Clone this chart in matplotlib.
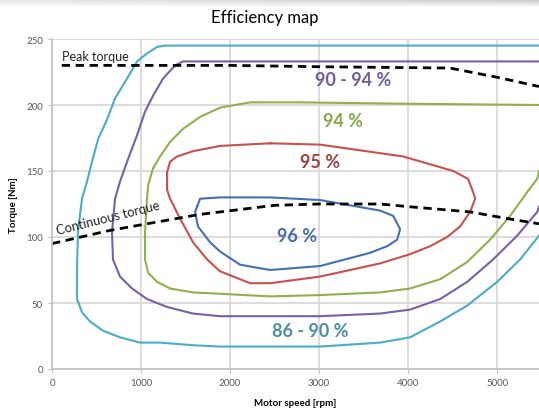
"""
Efficiency map of an electric motor: efficiency contours over speed and torque.
"""
import numpy as np
import matplotlib.pyplot as plt

plt.rcParams["font.family"] = ["Lato", "DejaVu Sans"]

# 86 - 90 % contour (outermost, teal)
c86_speed = [5470, 5258, 5000, 4663, 4360, 4022, 3685, 3010, 2450, 1888, 1584, 1213, 989, 764, 573, 427, 337,
             281, 281, 292, 337, 393, 449, 517, 618, 708, 843, 955, 1067, 1180, 1270, 5470]
c86_torque = [101, 83, 66, 48, 36, 24, 20, 17, 17, 17, 18, 20, 20, 24, 29, 36, 43,
              53, 78, 104, 129, 142, 157, 174, 189, 205, 220, 233, 239, 244, 245, 245]

# 90 - 94 % contour (purple)
c90_speed = [5470, 5450, 5225, 4955, 4663, 4360, 4022, 3685, 3010, 2450, 1888, 1584, 1292, 1067, 899, 764,
             685, 674, 708, 764, 854, 955, 1045, 1135, 1247, 1382, 1472, 1607, 5470]
c90_torque = [123, 119, 101, 83, 66, 53, 45, 42, 40, 40, 40, 42, 47, 53, 61, 70,
              83, 104, 129, 142, 159, 177, 195, 207, 220, 230, 233, 233, 233]

# 94 % contour (green)
c94_speed = [5470, 5450, 5337, 5146, 4921, 4663, 4360, 4022, 3685, 3010, 2450, 1888, 1584, 1326, 1180, 1079,
             1045, 1045, 1067, 1079, 1135, 1213, 1326, 1472, 1663, 1888, 2225, 2786, 3910, 5470]
c94_torque = [150, 144, 134, 116, 98, 81, 68, 61, 58, 56, 55, 57, 58, 61, 66, 73,
              83, 104, 129, 139, 152, 161, 172, 182, 191, 198, 202, 202, 201, 200]

# 95 % contour (red, closed)
c95_speed = [2450, 3010, 3945, 4507, 4674, 4730, 4753, 4697, 4584, 4438, 4247, 4022, 3685, 3010, 2450, 2225,
             1888, 1742, 1584, 1438, 1326, 1292, 1292, 1326, 1404, 1584, 1888, 2450]
c95_torque = [171, 170, 161, 150, 144, 134, 129, 119, 108, 100, 93, 87, 80, 70, 65, 65,
              74, 83, 96, 114, 129, 136, 149, 157, 161, 165, 169, 171]

# 96 % contour (blue, closed)
c96_speed = [1630, 1607, 1640, 1775, 1888, 2113, 2450, 3010, 3573, 3685, 3764, 3877, 3910, 3832, 3685,
             3010, 2450, 1888, 1663, 1630]
c96_torque = [123, 119, 108, 96, 89, 79, 75, 78, 88, 91, 93, 98, 106, 116, 120,
              128, 130, 130, 129, 123]

# torque limits
peak_speed = [110, 2000, 3000, 4470, 5000, 5470]
peak_torque = [230, 230, 229, 228, 221, 214]
cont_speed = [0, 650, 1650, 1888, 2500, 3000, 3685, 4000, 4697, 5112, 5470]
cont_torque = [95, 105, 117, 119, 124, 125, 125, 123, 119, 114, 110]

fig = plt.figure(figsize=(5.39, 4.10), dpi=100)

# grey screenshot shading along the top edge (darker towards the top and the right)
shade = fig.add_axes([0, 1 - 9 / 410, 1, 9 / 410])
fade = np.linspace(1, 0, 9)[:, None] * np.linspace(0.5, 1.0, 200)[None, :]
shade.imshow(1 - 0.22 * fade, cmap="gray", vmin=0, vmax=1, aspect="auto", extent=(0, 1, 0, 1))
shade.axis("off")

ax = fig.add_axes([52 / 539, 40 / 410, 487 / 539, 330 / 410])

ax.set_xlim(0, 5470)
ax.set_ylim(0, 250)
ax.set_xticks(range(0, 6000, 1000))
ax.set_yticks(range(0, 251, 50))
ax.grid(True, color="#d9d9d9", linewidth=1.3)
ax.set_axisbelow(True)
for side in ["top", "right"]:
    ax.spines[side].set_visible(False)
for side in ["left", "bottom"]:
    ax.spines[side].set_color("#bfbfbf")
    ax.spines[side].set_linewidth(1.2)
ax.tick_params(labelsize=7, colors="#595959", length=3, color="#bfbfbf")

ax.plot(c86_speed, c86_torque, color="#4bacc6", lw=1.5)
ax.plot(c90_speed, c90_torque, color="#7a5ea6", lw=1.5)
ax.plot(c94_speed, c94_torque, color="#8fb04c", lw=1.5)
ax.plot(c95_speed, c95_torque, color="#c9504c", lw=1.5)
ax.plot(c96_speed, c96_torque, color="#4470b0", lw=1.5)

ax.plot(peak_speed, peak_torque, color="black", lw=2, ls=(0, (3, 2)))
ax.plot(cont_speed, cont_torque, color="black", lw=2, ls=(0, (3, 2)))

ax.text(110, 234, "Peak torque", fontsize=9, color="#222222")
ax.text(60, 102, "Continuous torque", fontsize=9.3, color="#222222", rotation=14, rotation_mode="anchor")

ax.text(3380, 219, "90 - 94 %", fontsize=13, fontweight="bold", color="#6e5d9e", ha="center", va="center")
ax.text(3270, 188, "94 %", fontsize=13, fontweight="bold", color="#86a74a", ha="center", va="center")
ax.text(3010, 157, "95 %", fontsize=13, fontweight="bold", color="#a2403c", ha="center", va="center")
ax.text(2750, 101, "96 %", fontsize=13, fontweight="bold", color="#4a6bab", ha="center", va="center")
ax.text(2900, 29, "86 - 90 %", fontsize=13, fontweight="bold", color="#4a8ea6", ha="center", va="center")

ax.set_xlabel("Motor speed [rpm]", fontsize=7, fontweight="bold", labelpad=8)
ax.set_ylabel("Torque [Nm]", fontsize=7, fontweight="bold", labelpad=6)
fig.text(0.492, 0.955, "Efficiency map", fontsize=12, ha="center", va="center")

fig.savefig("out.png", dpi=100)
